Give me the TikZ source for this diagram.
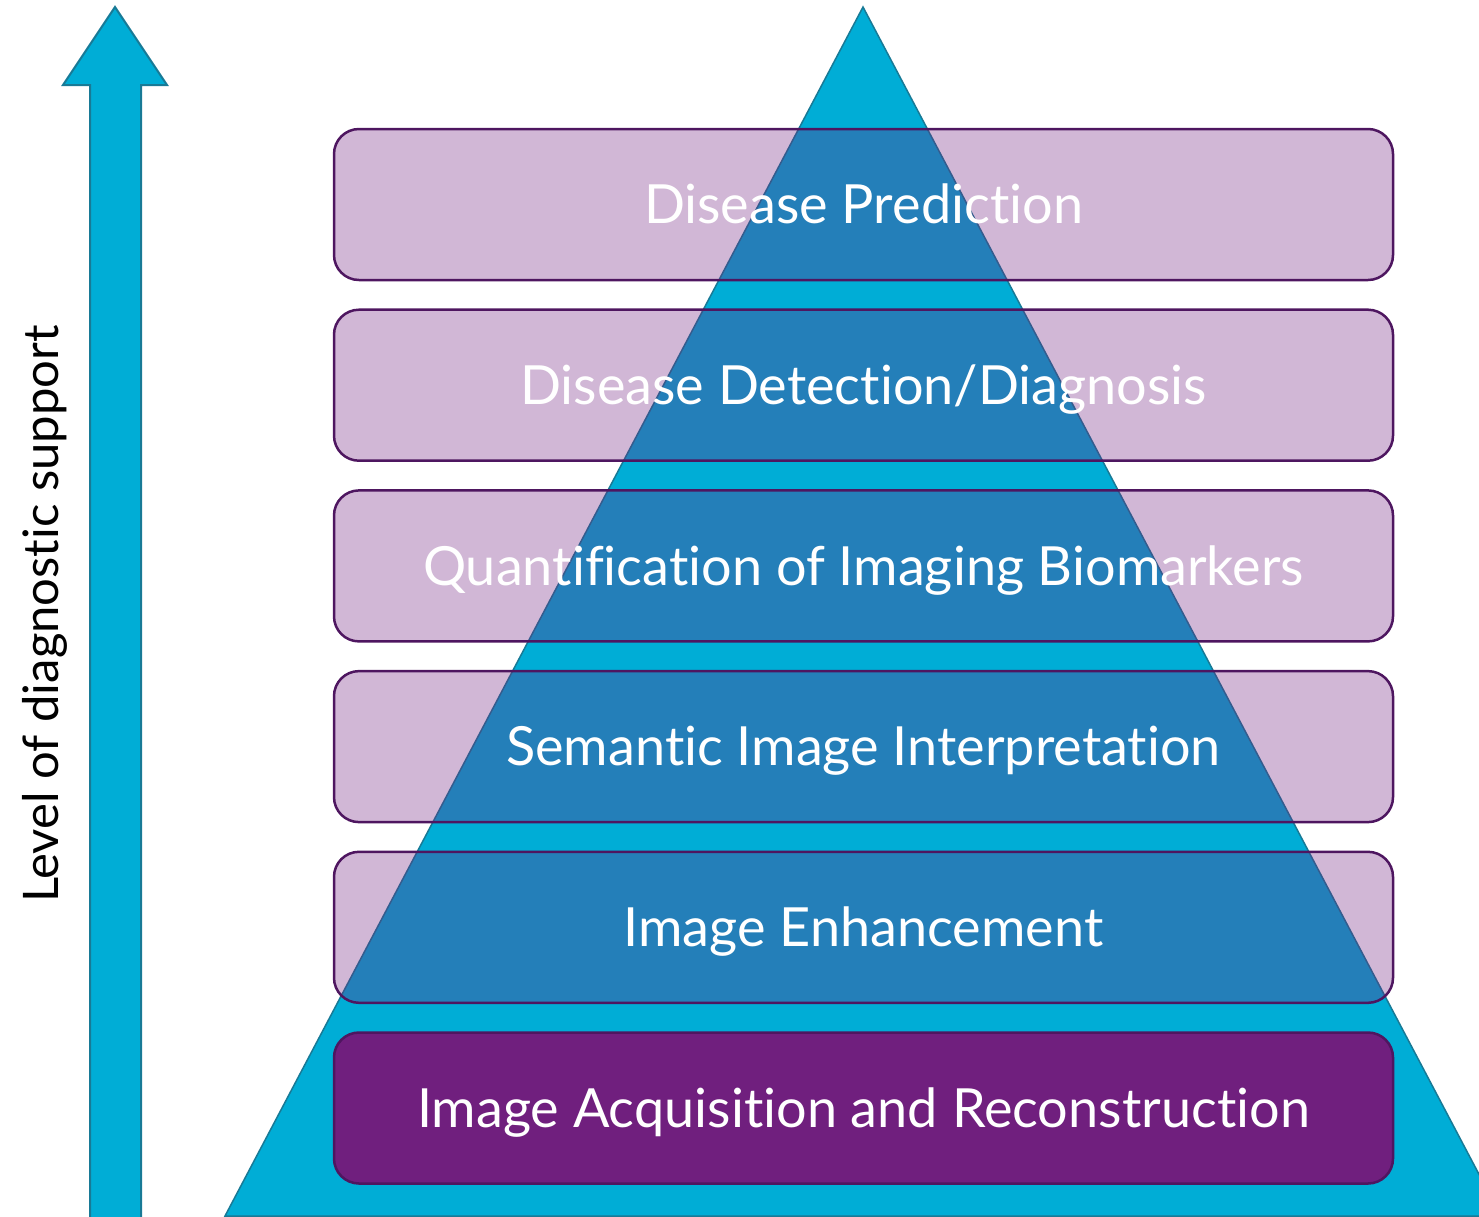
\documentclass[tikz,border=0pt]{standalone}
\usepackage{fontspec}
\setmainfont{Lato}[Ligatures=NoCommon]
\usepackage{xcolor}
\usetikzlibrary{positioning}
\definecolor{pyrcyan}{RGB}{0,173,214}
\definecolor{pyredge}{RGB}{24,122,150}
\definecolor{stagepurple}{RGB}{112,31,126}
\definecolor{stageline}{RGB}{78,22,96}

\tikzset{
  stage/.style={draw=stageline, line width=2.5pt, rounded corners=25pt,
    fill=stagepurple, fill opacity=0.32, text opacity=1, text=white,
    minimum width=1059pt, minimum height=151pt, inner sep=0pt,
    font=\fontsize{54}{64}\selectfont, text height=38.7pt, text depth=0pt},
  basestage/.style={stage, fill opacity=1}
}

\begin{document}
\begin{tikzpicture}[x=1pt, y=-1pt]
\useasboundingbox (0,0) rectangle (1479,1216);
% Pyramid and arrow
\coordinate (apex) at (863,7);
\begin{scope}
\clip (0,0) rectangle (1479,1216);
\fill[pyrcyan, draw=pyredge, line width=1.5pt] (apex) -- (225,1216) -- (1501,1216) -- cycle;
\fill[pyrcyan, draw=pyredge, line width=2pt] (115,7) -- (167,85) -- (141,85) -- (141,1230)
  -- (90,1230) -- (90,85) -- (63,85) -- cycle;
\end{scope}
\node[rotate=90, anchor=base, font=\fontsize{49}{58}\selectfont] (levellabel) at (58,614) {Level of diagnostic support};

% Nodes
\node[stage] (predict) at (863.5,204.5) {Disease Prediction};
\node[stage, below=27.2pt of predict] (detect) {Disease Detection/Diagnosis};
\node[stage, below=27.2pt of detect] (quant) {Quantification of Imaging Biomarkers};
\node[stage, below=27.2pt of quant] (semantic) {Semantic Image Interpretation};
\node[stage, below=27.2pt of semantic] (enhance) {Image Enhancement};
\node[basestage, below=27.2pt of enhance] (acquire) {Image Acquisition and Reconstruction};
\end{tikzpicture}
\end{document}
